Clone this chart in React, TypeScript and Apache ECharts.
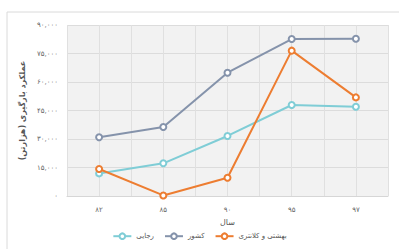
import React, { useEffect, useRef } from "react";
import * as echarts from "echarts";

const categories = ["۸۲", "۸۵", "۹۰", "۹۵", "۹۷"];
const rajaeiValues = [11900, 17200, 31600, 47900, 47000];
const countryValues = [30900, 36300, 64900, 82600, 82800];
const beheshtiValues = [14200, 300, 9600, 76500, 51900];
const seriesNames = ["رجایی", "کشور", "بهشتی و کلانتری"];
const yTicks = { min: 0, max: 90000, interval: 15000 };
const halfSteps = ["0", "1", "2", "3", "4", "5", "6", "7", "8", "9", "10"];

const FONT = "DejaVu Sans";

function toFa(n: number): string {
  const s = Math.round(n).toString().replace(/\B(?=(\d{3})+(?!\d))/g, ",");
  return s.replace(/\d/g, (d) => "۰۱۲۳۴۵۶۷۸۹"[Number(d)]);
}

export default function App() {
  const ref = useRef<HTMLDivElement>(null);
  useEffect(() => {
    if (!ref.current) return;
    const chart = echarts.init(ref.current, undefined, { renderer: "svg" });
    const colors = ["#7fcdd6", "#8593ab", "#ed7d31"];
    const data = [rajaeiValues, countryValues, beheshtiValues];
    chart.setOption({
      animation: false,
      backgroundColor: "#ffffff",
      textStyle: { fontFamily: FONT },
      graphic: [
        {
          type: "rect",
          shape: { x: 7, y: 12, width: 420, height: 260 },
          style: { fill: "none", stroke: "#dadada", lineWidth: 1 },
          silent: true,
        },
      ],
      grid: {
        left: 67,
        right: 11,
        top: 25,
        bottom: 53,
        show: true,
        backgroundColor: "#f2f2f2",
        borderWidth: 0,
      },
      legend: {
        data: seriesNames,
        bottom: 4,
        left: "center",
        itemWidth: 18,
        itemHeight: 7,
        itemGap: 10,
        textStyle: { fontFamily: FONT, fontSize: 7, color: "#555" },
      },
      xAxis: [
        {
          type: "category",
          data: categories,
          boundaryGap: true,
          axisLine: { lineStyle: { color: "#d6d6d6" } },
          axisTick: { show: false },
          splitLine: { show: false },
          axisLabel: { fontFamily: FONT, fontSize: 7, color: "#666", margin: 10 },
          name: "سال",
          nameLocation: "middle",
          nameGap: 22,
          nameTextStyle: { fontFamily: FONT, fontSize: 8, color: "#555" },
        },
        {
          type: "category",
          data: halfSteps,
          boundaryGap: false,
          position: "top",
          axisLine: { show: false },
          axisTick: { show: false },
          axisLabel: { show: false },
          splitLine: { show: true, interval: 0, lineStyle: { color: "#e0e0e0", width: 1 } },
        },
      ],
      yAxis: {
        type: "value",
        min: yTicks.min,
        max: yTicks.max,
        interval: yTicks.interval,
        axisLine: { show: false },
        axisTick: { show: false },
        axisLabel: {
          fontFamily: FONT,
          fontSize: 7,
          color: "#666",
          margin: 9,
          formatter: (v: number) => toFa(v),
        },
        splitLine: { lineStyle: { color: "#dcdcdc", width: 1 } },
        name: "عملکرد بارگیری (هزارتن)",
        nameLocation: "middle",
        nameRotate: 90,
        nameGap: 40,
        nameTextStyle: { fontFamily: FONT, fontSize: 8, color: "#555", fontWeight: "bold" },
      },
      series: [
        ...seriesNames.map((name, i) => ({
          name,
          type: "line",
          xAxisIndex: 0,
          data: data[i],
          symbol: "emptyCircle",
          symbolSize: 6,
          z: 3 + i,
          lineStyle: { color: colors[i], width: 2 },
          itemStyle: { color: colors[i], borderWidth: 1.5 },
        })),
        {
          name: "_grid",
          type: "line",
          xAxisIndex: 1,
          data: [],
          silent: true,
          showSymbol: false,
        },
      ],
    });
    return () => chart.dispose();
  }, []);
  return (
    <div
      ref={ref}
      style={{ position: "fixed", left: 0, top: 0, width: 399, height: 249 }}
    />
  );
}
